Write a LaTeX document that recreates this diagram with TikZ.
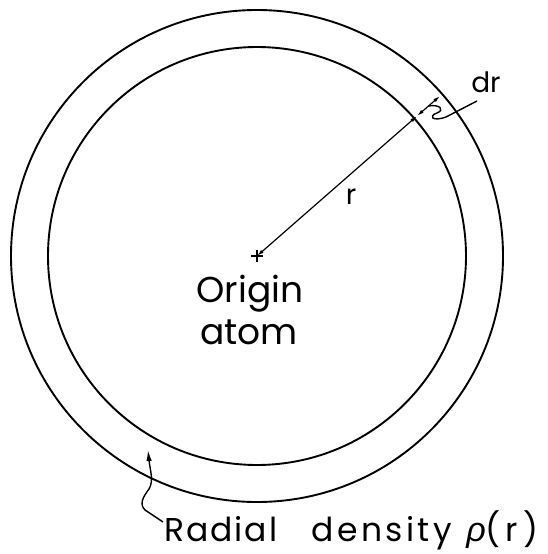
\documentclass[tikz,border=0pt]{standalone}
\usepackage{fontspec}
\setmainfont{Poppins}
\newfontfamily\spaced[LetterSpace=6]{Poppins}
\newfontfamily\spacedb[LetterSpace=10]{Poppins}
\newfontfamily\grk{Liberation Sans}
\usetikzlibrary{arrows.meta,calc}
\begin{document}
\begin{tikzpicture}[x=1pt,y=-1pt,
  ring/.style={line width=1.9pt},
  dim/.style={line width=1.2pt,{Latex[length=7pt,width=3.8pt]}-{Latex[length=7pt,width=3.8pt]}},
  leader/.style={line width=1.4pt},
  lab/.style={inner sep=0pt,anchor=base}]
\useasboundingbox (0,0) rectangle (547,554);
\coordinate (C) at (257,256);
\coordinate (P1) at (417,116);
\coordinate (P2) at (440,96);
\draw[ring] (C) circle[radius=209];
\draw[ring] (C) circle[radius=246];
% centre cross
\draw[line width=1.2pt] ($(C)+(-6,0)$) -- ($(C)+(6,0)$) ($(C)+(0,-6)$) -- ($(C)+(0,6)$);
\draw[dim] (C) -- (P1);
\draw[dim] (P1) -- (P2);
\node[lab,font=\fontsize{28}{30}\selectfont] (r) at (351,204) {r};
\node[lab,font=\fontsize{28}{30}\selectfont] (dr) at (486,92) {dr};
\node[lab,font=\fontsize{36}{40}\selectfont] (origin) at (250,302) {Origin};
\node[lab,font=\fontsize{36}{40}\selectfont] (atom) at (249,344) {atom};
\node[lab,anchor=base west,font=\fontsize{33}{36}\spaced] (rad) at (164,541)
  {Radial\hspace{1.05em}{\spacedb density}\hspace{0.45em}{\grk\itshape\fontsize{34}{36}\selectfont ρ}(\hspace{0.15em}r\hspace{0.15em})};
\coordinate (drm) at ($(P1)!0.5!(P2)$);
\coordinate (drt) at (477,101);
\draw[leader] (drm) .. controls (440,104) and (445,110) .. (437,113)
  .. controls (428,116) and (432,122) .. (446,117) -- (drt);
\coordinate (radt) at (163,522);
\coordinate (radh) at (148,450);
\draw[leader,-{Latex[length=11pt,width=5.5pt]}] (radt) -- (145,510)
  .. controls (139,504) and (143,497) .. (149,489)
  .. controls (154,481) and (150,470) .. (radh);
\end{tikzpicture}
\end{document}
